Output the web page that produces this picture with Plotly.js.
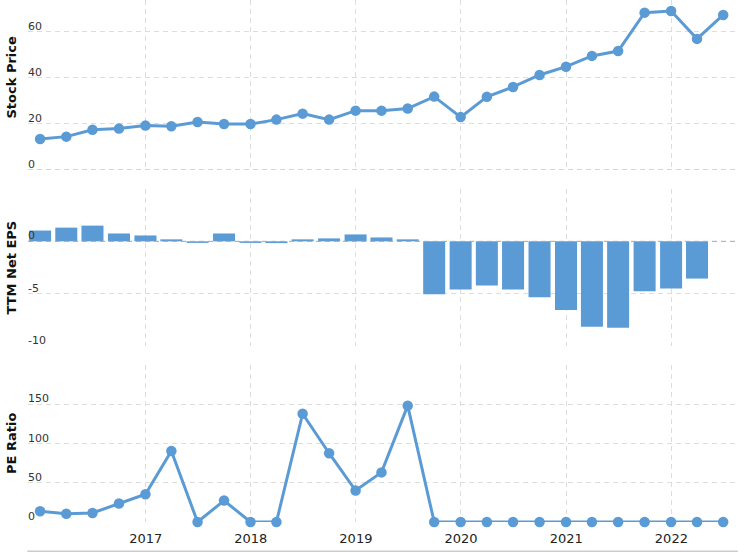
<!DOCTYPE html>
<html><head><meta charset="utf-8">
<script src="https://cdn.plot.ly/plotly-3.0.1.min.js"></script>
<style>html,body{margin:0;padding:0;background:#fff}#chart{width:744px;height:552px}</style>
</head><body><div id="chart"></div>
<script>
const quarterDates = ['2015-12-31','2016-03-31','2016-06-30','2016-09-30','2016-12-31','2017-03-31','2017-06-30','2017-09-30','2017-12-31','2018-03-31','2018-06-30','2018-09-30','2018-12-31','2019-03-31','2019-06-30','2019-09-30','2019-12-31','2020-03-31','2020-06-30','2020-09-30','2020-12-31','2021-03-31','2021-06-30','2021-09-30','2021-12-31','2022-03-31','2022-06-30'];
const stockPrice = [13.5,14.5,17.5,18.0,19.3,19.0,20.9,20.0,20.0,21.9,24.5,21.9,25.8,25.8,26.7,31.9,23.0,31.8,36.1,41.3,44.9,49.6,51.7,68.4,69.1,57.0,67.4];
const ttmNetEps = [1.03,1.31,1.50,0.75,0.56,0.19,-0.15,0.75,-0.15,-0.17,0.19,0.28,0.66,0.37,0.19,-5.06,-4.60,-4.22,-4.60,-5.34,-6.56,-8.15,-8.25,-4.78,-4.50,-3.56,null];
const peRatio = [13.6,10.6,11.5,23.5,35.4,90.5,0,27.3,0,0,137.9,87.6,40.1,63.2,148.2,0,0,0,0,0,0,0,0,0,0,0,0];
const yearTickValues = ['2017-01-01','2018-01-01','2019-01-01','2020-01-01','2021-01-01','2022-01-01'];
const yearTickLabels = ['2017','2018','2019','2020','2021','2022'];
const priceTicks = [0,20,40,60];
const epsTicks = [-10,-5,0,5];
const epsTickLabels = ['-10','-5','0',''];
const peTicks = [0,50,100,150,200];
const peTickLabels = ['0','50','100','150',''];
const panelTitles = ['Stock Price','TTM Net EPS','PE Ratio'];

const blue = '#5b9bd5';
const gridDash = '5px,4px';
const H = 522; // plot height in px (552 - bottom margin)
const dom = (topPx, botPx) => [(H - botPx) / H, (H - topPx) / H];

const traces = [
  {x: quarterDates, y: stockPrice, type: 'scatter', mode: 'lines+markers', yaxis: 'y3',
   line: {color: blue, width: 3}, marker: {color: blue, size: 10.5}, cliponaxis: false},
  {x: quarterDates, y: ttmNetEps, type: 'bar', yaxis: 'y2', marker: {color: blue}},
  {x: quarterDates, y: peRatio, type: 'scatter', mode: 'lines+markers', yaxis: 'y',
   line: {color: blue, width: 3}, marker: {color: blue, size: 10.5}, cliponaxis: false}
];

const yCommon = {
  showgrid: true, gridcolor: '#dddddd', griddash: gridDash, gridwidth: 1,
  zeroline: false, showline: false, ticks: '', fixedrange: true,
  ticklabelposition: 'inside top', ticklabelstandoff: -3, ticklabelshift: 2,
  ticklabeloverflow: 'allow',
  tickfont: {family: 'DejaVu Sans', size: 11, color: '#333'}
};

const layout = {
  width: 744, height: 552,
  margin: {l: 28, r: 9, t: 0, b: 30},
  paper_bgcolor: '#fff', plot_bgcolor: '#fff',
  showlegend: false, bargap: 0.15,
  font: {family: 'DejaVu Sans', color: '#222'},
  xaxis: {
    type: 'date', range: ['2015-11-19', '2022-08-10'],
    tickmode: 'array', tickvals: yearTickValues, ticktext: yearTickLabels,
    showgrid: true, gridcolor: '#dddddd', griddash: gridDash, gridwidth: 1,
    zeroline: false, showline: false, ticks: '', ticklabelstandoff: 7,
    tickfont: {family: 'DejaVu Sans', size: 13, color: '#222'}
  },
  yaxis: Object.assign({}, yCommon, {domain: dom(365, 522), range: [0, 200],
    tickmode: 'array', tickvals: peTicks, ticktext: peTickLabels}),
  yaxis2: Object.assign({}, yCommon, {domain: dom(189, 346), range: [-10, 5],
    tickmode: 'array', tickvals: epsTicks, ticktext: epsTickLabels}),
  yaxis3: Object.assign({}, yCommon, {domain: dom(0, 170), range: [0, 73.9],
    tickmode: 'array', tickvals: priceTicks, ticktext: priceTicks.map(String)}),
  shapes: [
    {type: 'line', xref: 'paper', x0: 0, x1: 1, yref: 'y3', y0: 0, y1: 0,
     line: {color: '#aaaaaa', width: 1, dash: gridDash}, layer: 'above'},
    {type: 'line', xref: 'paper', x0: 0, x1: 1, yref: 'y2', y0: 0, y1: 0,
     line: {color: '#aaaaaa', width: 1, dash: gridDash}, layer: 'above'},
    {type: 'line', xref: 'paper', x0: -0.001, x1: 1.004, yref: 'paper', y0: -29.5 / H, y1: -29.5 / H,
     line: {color: '#cccccc', width: 2}, layer: 'above'}
  ],
  annotations: [
    {text: panelTitles[0], xref: 'paper', x: 0, xshift: -17, yref: 'paper', y: (H - 77.5) / H,
     textangle: -90, showarrow: false, xanchor: 'center', yanchor: 'middle',
     font: {family: 'DejaVu Sans', size: 13, color: '#111', weight: 'bold'}},
    {text: panelTitles[1], xref: 'paper', x: 0, xshift: -17, yref: 'paper', y: (H - 267.5) / H,
     textangle: -90, showarrow: false, xanchor: 'center', yanchor: 'middle',
     font: {family: 'DejaVu Sans', size: 13, color: '#111', weight: 'bold'}},
    {text: panelTitles[2], xref: 'paper', x: 0, xshift: -17, yref: 'paper', y: (H - 444) / H,
     textangle: -90, showarrow: false, xanchor: 'center', yanchor: 'middle',
     font: {family: 'DejaVu Sans', size: 13, color: '#111', weight: 'bold'}}
  ]
};

Plotly.newPlot('chart', traces, layout, {displayModeBar: false, staticPlot: true});
</script>
</body></html>
